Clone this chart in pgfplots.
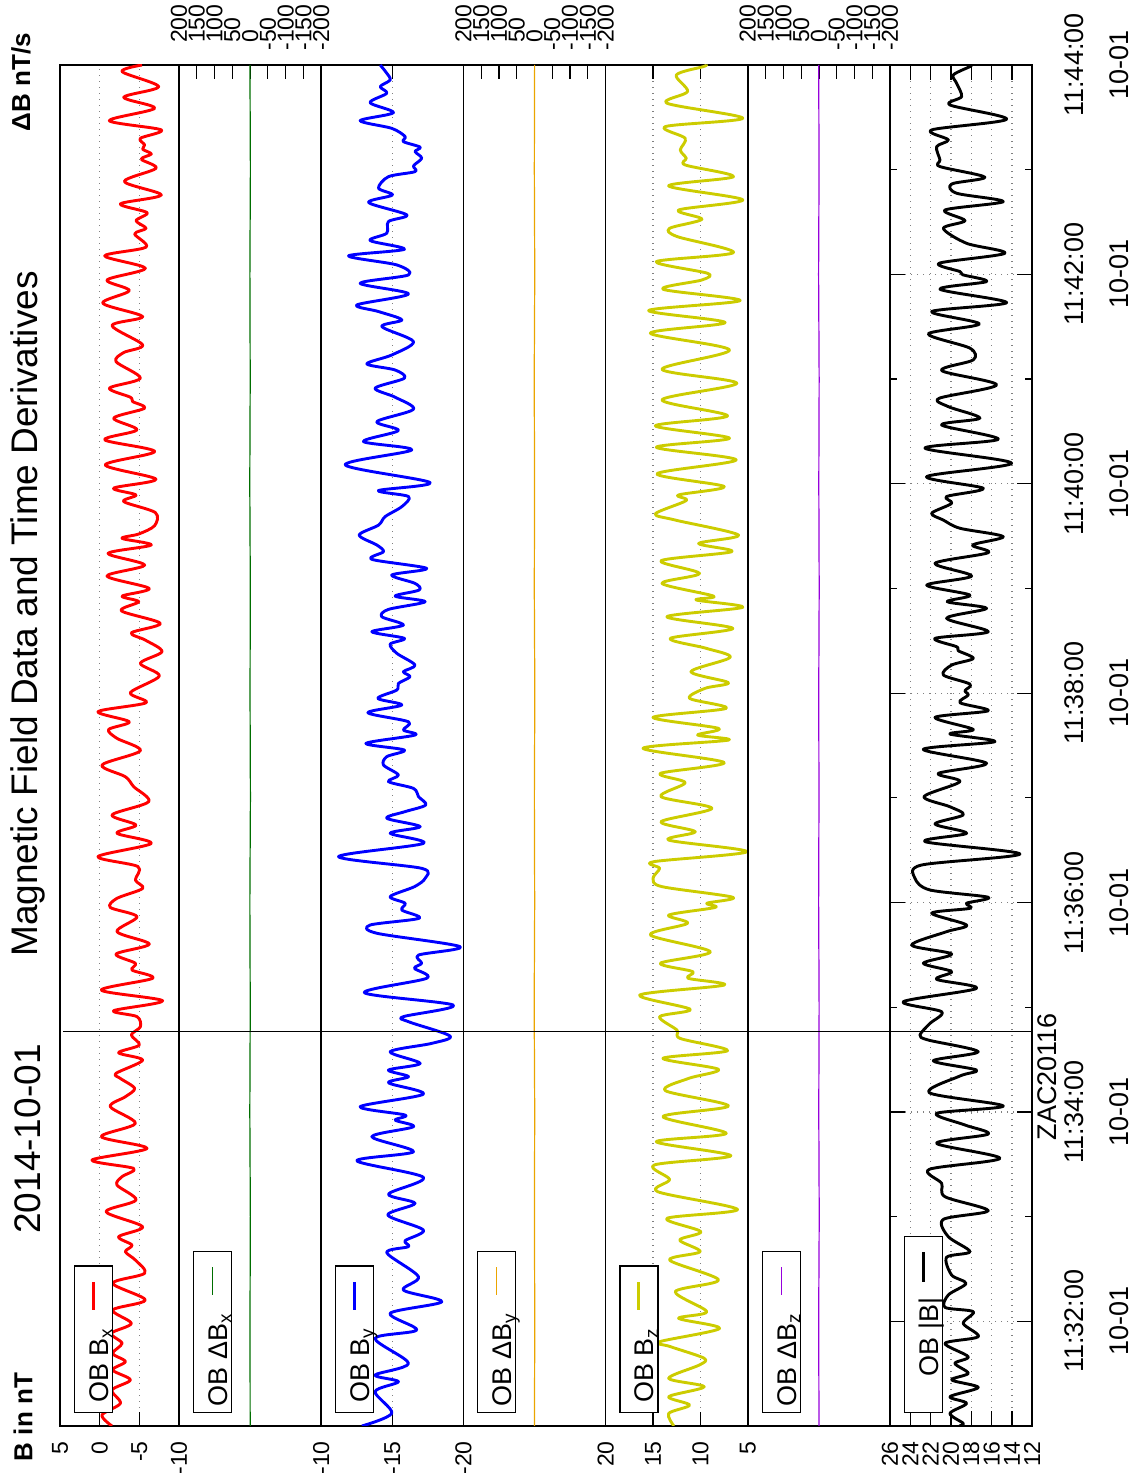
\documentclass[border=0pt]{standalone}
\usepackage{pgfplots}
\usepackage{pgfplotstable}
\pgfplotsset{compat=1.18}
\usepackage{fontspec}
\setmainfont{Liberation Sans}

\definecolor{cBx}{RGB}{255,0,0}
\definecolor{cdBx}{RGB}{0,110,0}
\definecolor{cBy}{RGB}{0,0,255}
\definecolor{cdBy}{RGB}{235,165,0}
\definecolor{cBz}{RGB}{204,204,0}
\definecolor{cdBz}{RGB}{150,0,220}

\pgfplotstableread{
t v
780.0 -5.34
776.2 -2.82
767.6 -7.44
761.5 -3.03
755.2 -6.93
748.1 -1.22
742.8 -7.77
738.0 -5.13
734.2 -5.67
731.7 -5.42
729.0 -6.51
726.0 -5.25
720.8 -7.10
713.2 -3.11
705.5 -7.77
700.4 -2.61
695.4 -5.97
690.8 -4.58
686.4 -5.84
683.2 -4.41
675.6 -5.84
670.6 -0.63
663.5 -5.76
656.8 -0.92
650.7 -3.74
643.5 -0.38
635.8 -5.42
630.7 -1.55
619.6 -5.42
615.2 -3.03
610.0 -2.06
600.5 -5.13
594.8 -1.22
589.6 -3.87
587.1 -4.16
583.3 -5.67
577.6 -1.76
570.9 -4.71
565.2 -0.63
558.5 -6.93
550.8 -0.71
542.6 -7.10
537.5 -1.76
533.6 -4.58
529.8 -3.03
523.5 -7.02
516.0 -6.93
511.2 -4.92
508.7 -2.82
504.9 -6.51
500.1 -1.05
493.4 -5.67
487.1 -0.92
480.0 -6.26
475.6 -2.82
472.4 -4.92
467.2 -2.73
460.0 -7.65
454.6 -3.99
450.4 -5.76
443.8 -7.86
437.1 -5.13
429.8 -7.52
420.3 -3.87
414.5 -5.84
409.4 0.21
403.6 -3.74
399.2 -1.13
394.1 -2.18
387.0 -5.13
378.8 -0.29
372.1 -3.24
366.4 -4.29
357.8 -6.18
350.2 -1.55
344.4 -4.58
339.7 -2.18
333.9 -6.51
326.3 0.21
320.6 -4.83
312.9 -4.50
308.1 -5.42
302.4 -2.18
297.2 -1.34
291.9 -4.71
283.3 -2.18
276.2 -6.26
270.5 -2.06
265.2 -4.50
261.3 -4.08
256.6 -6.68
249.8 -0.21
243.7 -7.94
238.0 -1.76
234.6 -4.71
228.8 -5.13
224.1 -3.99
218.3 -5.00
213.9 -2.39
209.7 -5.42
202.1 -2.06
199.2 -2.61
193.5 -4.41
188.7 -3.24
183.0 -1.34
173.4 -4.50
165.8 -0.21
159.1 -5.97
152.4 0.97
147.6 -4.29
142.9 -2.82
138.1 -2.18
129.5 -4.58
122.8 -0.80
114.2 -5.42
108.5 -2.39
103.7 -4.08
99.9 -3.24
95.1 -4.50
87.5 -5.67
81.8 -1.64
72.2 -5.76
66.5 -1.64
58.8 -3.99
53.1 -1.47
47.4 -2.82
41.6 -1.64
36.9 -3.24
32.1 -1.64
26.4 -3.87
20.6 -1.55
13.0 -2.61
6.3 -0.29
0.0 -1.55
}\tBx

\pgfplotstableread{
t v
780.0 -14.15
775.3 -14.61
771.4 -14.85
767.6 -14.15
763.8 -14.61
758.4 -13.44
752.7 -15.08
748.1 -12.74
743.7 -14.96
739.0 -15.90
736.1 -15.78
732.9 -16.96
730.4 -16.60
726.6 -17.07
722.2 -16.49
718.9 -16.60
716.0 -14.73
709.4 -14.03
705.5 -15.01
701.2 -13.33
694.1 -16.02
690.3 -14.73
683.6 -14.61
679.4 -13.44
674.4 -15.85
670.6 -11.92
665.4 -15.32
659.7 -16.14
654.9 -12.74
648.8 -16.14
642.5 -12.51
638.7 -14.03
633.9 -15.67
630.1 -14.26
621.5 -16.49
613.8 -14.96
608.7 -13.21
605.2 -15.20
600.5 -15.85
594.8 -13.79
589.6 -15.20
582.7 -16.49
575.6 -13.91
570.5 -15.43
564.2 -12.97
559.4 -16.37
550.8 -11.69
540.7 -17.66
536.1 -14.03
532.7 -16.14
526.9 -15.67
521.2 -14.50
516.3 -14.03
510.6 -12.67
504.9 -13.91
501.1 -14.38
496.7 -13.56
491.5 -17.42
487.7 -14.96
482.9 -16.60
479.1 -16.89
475.6 -15.20
472.4 -17.31
468.0 -14.73
463.8 -14.26
459.0 -15.78
455.2 -13.56
451.4 -15.85
448.1 -14.85
442.8 -15.32
436.1 -16.60
432.3 -15.78
429.4 -16.25
425.6 -15.43
421.8 -15.32
417.0 -13.98
413.2 -15.67
408.8 -13.28
403.6 -16.14
398.9 -15.78
396.0 -16.60
391.2 -13.14
387.4 -15.85
383.6 -14.61
378.8 -14.38
373.1 -15.43
369.3 -14.73
365.4 -16.49
360.7 -16.84
355.9 -17.35
352.1 -15.90
348.3 -14.61
343.5 -16.96
339.7 -14.85
333.9 -17.19
326.3 -11.22
319.6 -17.07
313.9 -17.31
309.1 -16.56
303.4 -14.85
299.6 -15.90
295.7 -15.67
291.0 -16.89
287.1 -13.44
282.4 -13.91
274.7 -19.77
269.9 -16.84
265.2 -17.07
262.3 -16.56
256.6 -17.42
248.3 -13.04
241.2 -19.30
234.6 -15.78
231.7 -16.14
223.5 -19.06
219.3 -17.78
214.5 -14.85
207.8 -16.96
204.0 -14.73
200.2 -16.14
196.7 -14.73
190.2 -17.19
183.0 -12.74
178.2 -15.90
175.3 -15.20
171.5 -16.49
165.8 -13.56
157.2 -16.49
152.0 -12.51
142.5 -17.19
132.9 -14.73
127.6 -16.60
120.9 -14.68
112.3 -17.19
106.2 -15.90
102.8 -16.14
99.3 -14.61
85.6 -16.84
77.9 -15.78
71.2 -18.48
64.6 -14.85
55.0 -16.72
50.2 -13.79
35.9 -16.14
29.2 -13.79
25.4 -15.43
19.7 -13.79
7.3 -14.96
0.0 -12.86
}\tBy

\pgfplotstableread{
t v
780.0 9.40
779.1 9.67
774.3 12.54
764.8 11.35
758.1 13.53
749.5 5.53
744.7 13.70
738.0 11.60
731.3 12.12
726.6 11.49
722.7 11.60
716.0 6.51
710.7 13.35
702.7 5.53
696.9 12.30
691.6 9.84
686.4 13.25
681.7 12.47
672.5 6.51
667.3 14.65
660.6 9.25
656.8 9.84
651.5 13.95
645.0 5.81
639.3 15.46
632.4 7.39
626.3 15.28
616.7 6.93
605.6 14.05
597.6 6.16
588.1 14.05
578.9 7.14
573.2 14.75
566.1 6.93
560.9 14.65
553.7 6.23
545.7 14.58
538.4 7.49
533.6 12.30
530.4 11.49
522.8 14.75
519.2 12.65
510.6 5.98
505.8 10.19
501.1 6.68
495.9 14.16
488.6 10.09
482.9 14.05
475.6 8.61
473.4 10.44
469.2 5.53
463.8 13.53
457.1 6.58
451.4 13.18
445.7 9.39
440.5 6.86
432.3 11.00
426.0 7.04
422.8 9.49
417.0 11.14
411.3 7.28
406.1 15.00
399.8 8.09
396.0 10.30
393.1 7.04
388.4 16.05
380.2 7.49
374.0 14.23
368.7 11.60
360.7 14.16
354.0 8.79
346.3 14.16
340.6 10.54
335.8 13.35
329.1 5.11
323.4 14.93
319.6 14.30
313.9 15.00
309.1 14.05
303.0 6.58
299.6 9.32
297.2 8.44
292.8 13.35
288.1 11.35
281.4 15.28
271.8 8.96
265.2 14.23
260.4 10.80
256.6 11.30
252.7 7.49
247.0 16.40
238.8 11.07
234.6 14.30
226.9 12.47
222.1 12.12
215.1 7.14
210.7 13.95
204.4 8.09
199.2 11.25
192.2 13.70
183.4 7.04
177.3 13.95
167.7 7.28
162.9 14.65
154.9 6.79
149.6 14.86
141.3 13.25
134.3 14.51
124.1 6.09
119.0 13.53
111.4 9.95
106.6 12.19
99.9 10.02
95.1 13.25
83.7 8.09
77.0 12.65
65.5 9.32
61.7 12.30
55.9 7.98
48.3 14.30
45.5 13.18
38.8 9.60
35.0 10.09
27.3 13.35
22.5 9.60
16.8 13.35
12.0 11.14
7.2 13.35
0.0 12.80
}\tBz

\pgfplotstableread{
t v
780.0 18.00
779.1 18.13
774.3 19.77
769.5 19.44
761.9 18.95
757.1 20.10
748.9 14.52
742.8 21.90
737.1 20.26
733.2 21.41
725.6 21.08
721.8 21.08
715.7 16.66
711.8 19.93
706.5 19.44
701.7 14.85
696.9 20.59
690.8 18.62
686.4 20.75
677.8 18.46
672.1 14.69
666.4 21.15
661.6 19.11
659.7 18.79
655.9 16.49
651.5 21.08
643.8 14.52
638.7 21.90
631.6 17.21
625.9 22.23
617.7 18.13
611.0 17.80
604.9 20.92
596.7 15.51
589.0 21.15
584.2 20.26
577.6 17.15
573.7 20.92
565.5 15.34
560.4 22.56
551.8 14.03
544.1 22.39
537.4 16.82
532.7 20.43
528.8 19.93
523.1 21.90
519.2 20.75
514.5 19.11
509.7 14.85
504.9 17.87
500.5 16.33
494.4 21.57
487.1 17.97
481.9 22.39
476.2 18.13
472.4 20.36
468.6 16.49
462.9 20.43
455.2 16.33
451.4 21.57
446.6 19.44
444.3 19.28
439.9 17.80
436.1 19.93
430.4 20.75
425.2 18.13
421.4 18.62
418.9 18.30
414.5 19.11
409.9 16.33
406.1 21.57
399.2 17.80
396.6 20.10
392.2 15.67
387.8 22.72
379.8 16.49
374.0 21.25
369.3 19.11
360.7 22.66
354.9 20.10
350.2 18.79
345.0 21.57
339.7 18.46
334.9 22.56
327.8 13.21
321.5 22.89
313.9 23.54
307.2 22.07
303.0 16.33
299.6 18.46
296.7 18.13
293.9 21.90
287.1 18.46
283.3 20.43
275.6 23.87
270.5 19.93
265.2 22.72
260.4 19.93
256.0 21.41
250.8 17.48
243.2 24.69
237.4 20.92
230.7 22.07
224.1 23.05
221.2 22.23
214.5 17.31
209.3 21.74
204.0 17.48
200.6 19.11
191.0 22.13
183.4 14.85
179.2 21.41
172.5 18.62
167.3 16.33
162.0 21.41
153.4 15.18
147.1 22.13
139.1 20.92
131.4 20.59
123.4 16.33
118.4 20.75
108.5 20.26
99.9 18.13
96.7 20.43
86.5 19.93
81.7 18.52
75.1 20.26
68.0 20.59
65.5 17.80
58.8 18.79
51.2 17.31
47.4 20.59
39.7 18.30
35.9 19.61
30.2 18.30
26.4 19.93
22.1 17.31
16.8 20.10
13.0 18.46
7.2 20.10
1.5 18.79
0.0 19.20
}\tB

\pgfplotstableread{
t v
780 0.4
720 -0.8
660 0.6
600 -0.3
540 0.9
480 -0.6
420 0.2
360 -0.9
300 0.7
240 -0.4
180 0.8
120 -0.7
60 0.3
0 -0.2
}\tdBx

\pgfplotstableread{
t v
780 -0.3
720 0.5
660 -0.7
600 0.8
540 -0.2
480 0.6
420 -0.9
360 0.4
300 -0.5
240 0.9
180 -0.6
120 0.3
60 -0.8
0 0.2
}\tdBy

\pgfplotstableread{
t v
780 0.6
720 -0.4
660 0.9
600 -0.7
540 0.3
480 -0.8
420 0.5
360 -0.2
300 0.8
240 -0.6
180 0.4
120 -0.9
60 0.7
0 -0.3
}\tdBz

\pgfplotsset{
  panel/.style={
    scale only axis, height=680.5pt, anchor=south west,
    ymin=0, ymax=780, x dir=reverse,
    ytick=\empty,
    axis line style={line width=0.75pt},
    every tick/.style={black, line width=0.6pt},
    major tick length=7pt, minor tick length=3.5pt,
    xticklabel style={font=\fontsize{11.5}{13}\selectfont, rotate=90, anchor=east, inner sep=0pt},
    xticklabel shift=7.5pt,
    major x grid style={gray, dash pattern=on 0.6pt off 2.4pt, line width=0.6pt},
    major y grid style={gray, dash pattern=on 0.6pt off 2.4pt, line width=0.6pt},
  },
  dpanel/.style={panel, width=71.1pt, xmin=-200, xmax=200,
    xtick={-200,-150,-100,-50,0,50,100,150,200},
    xticklabels={-200,-150,-100,-50,\phantom{-}0,\phantom{-}50,\phantom{-}100,\phantom{-}150,\phantom{-}200},
    xtick pos=right, xticklabel pos=right,
    xticklabel style={anchor=west},
    xticklabel shift=7pt,
  },
  curve/.style={line width=1.45pt, smooth, tension=0.5, line join=round},
  dcurve/.style={line width=0.6pt},
}

\newcommand{\leg}[8]{%
  \draw[black, line width=0.6pt, fill=white] ({#1+7.15pt},31.15pt) rectangle ({#1+26.15pt},#2);
  \node[rotate=90, anchor=base west, inner sep=0pt, font=\fontsize{13.5}{15}\selectfont] at ({#1+24.1pt},#3) {#8};
  \draw[#6, line width=#7] ({#1+16.65pt},#4) -- ({#1+16.65pt},#5);
}

\begin{document}
\begin{tikzpicture}
\path[use as bounding box] (0,0) rectangle (571.5pt,737.5pt);

% Panel 1: Bx
\begin{axis}[panel, at={(30pt,24.5pt)}, width=59.5pt,
  xmin=-10, xmax=5, xtick={-10,-5,0,5}, xticklabels={-10,-5,0,5},
  xtick pos=left, xmajorgrids]
\addplot[cBx, curve] table[x=v, y=t] {\tBx};
\end{axis}

% Panel 2: dBx
\begin{axis}[dpanel, at={(89.5pt,24.5pt)}]
\addplot[cdBx, dcurve] table[x=v, y=t] {\tdBx};
\end{axis}

% Panel 3: By
\begin{axis}[panel, at={(160.6pt,24.5pt)}, width=71.1pt,
  xmin=-20, xmax=-10, xtick={-20,-15,-10}, xticklabels={-20,-15,-10},
  xmajorgrids]
\addplot[cBy, curve] table[x=v, y=t] {\tBy};
\end{axis}

% Panel 4: dBy
\begin{axis}[dpanel, at={(231.7pt,24.5pt)}]
\addplot[cdBy, dcurve] table[x=v, y=t] {\tdBy};
\end{axis}

% Panel 5: Bz
\begin{axis}[panel, at={(302.8pt,24.5pt)}, width=71.1pt,
  xmin=5, xmax=20, xtick={5,10,15,20}, xticklabels={5,10,15,20},
  xmajorgrids]
\addplot[cBz, curve] table[x=v, y=t] {\tBz};
\end{axis}

% Panel 6: dBz
\begin{axis}[dpanel, at={(373.9pt,24.5pt)}]
\addplot[cdBz, dcurve] table[x=v, y=t] {\tdBz};
\end{axis}

% Panel 7: |B|
\begin{axis}[panel, at={(445pt,24.5pt)}, width=71.1pt,
  xmin=12, xmax=26, xtick={12,14,16,18,20,22,24,26},
  xticklabels={12,14,16,18,20,22,24,26},
  xmajorgrids, ymajorgrids,
  ytick={60,180,300,420,540,660,780},
  minor ytick={0,120,240,360,480,600,720},
  major tick length=7.5pt,
  yticklabels={{11:32:00\\10-01},{11:34:00\\10-01},{11:36:00\\10-01},{11:38:00\\10-01},{11:40:00\\10-01},{11:42:00\\10-01},{11:44:00\\10-01}},
  yticklabel pos=right,
  yticklabel style={rotate=90, anchor=north, align=center, font=\fontsize{13.5}{22.5}\selectfont, inner sep=0pt},
  yticklabel shift=16pt]
\addplot[black, curve] table[x=v, y=t] {\tB};
\end{axis}

% event marker
\draw[black, line width=0.5pt] (31.5pt,221.65pt) -- (516.1pt,221.65pt);
\node[rotate=90, inner sep=0pt, font=\fontsize{13.5}{15}\selectfont] at (523.75pt,199.15pt) {ZAC20116};

% legends
\leg{30pt}{104.5pt}{35.85pt}{82.5pt}{96.65pt}{cBx}{1.45pt}{OB B\textsubscript{x}}
\leg{89.5pt}{111.65pt}{34.15pt}{90pt}{104.15pt}{cdBx}{0.6pt}{OB ΔB\textsubscript{x}}
\leg{160.6pt}{104.5pt}{35.85pt}{82.5pt}{96.65pt}{cBy}{1.45pt}{OB B\textsubscript{y}}
\leg{231.7pt}{111.65pt}{34.15pt}{90pt}{104.15pt}{cdBy}{0.6pt}{OB ΔB\textsubscript{y}}
\leg{302.8pt}{104.5pt}{35.85pt}{82.5pt}{96.65pt}{cBz}{1.45pt}{OB B\textsubscript{z}}
\leg{373.9pt}{111.65pt}{34.15pt}{90pt}{104.15pt}{cdBz}{0.6pt}{OB ΔB\textsubscript{z}}
\leg{445pt}{119.15pt}{49.15pt}{96.65pt}{111.65pt}{black}{1.45pt}{OB |B|}

% titles
\node[rotate=90, inner sep=0pt, font=\fontsize{18.5}{20}\selectfont] at (14pt,168pt) {2014-10-01};
\node[rotate=90, inner sep=0pt, font=\fontsize{18.5}{20}\selectfont] at (14pt,430.5pt) {Magnetic Field Data and Time Derivatives};
\node[rotate=90, inner sep=0pt, font=\fontsize{13}{15}\selectfont\bfseries] at (11.5pt,29pt) {B in nT};
\node[rotate=90, inner sep=0pt, font=\fontsize{13}{15}\selectfont\bfseries] at (10.5pt,696.5pt) {ΔB nT/s};
\end{tikzpicture}
\end{document}
